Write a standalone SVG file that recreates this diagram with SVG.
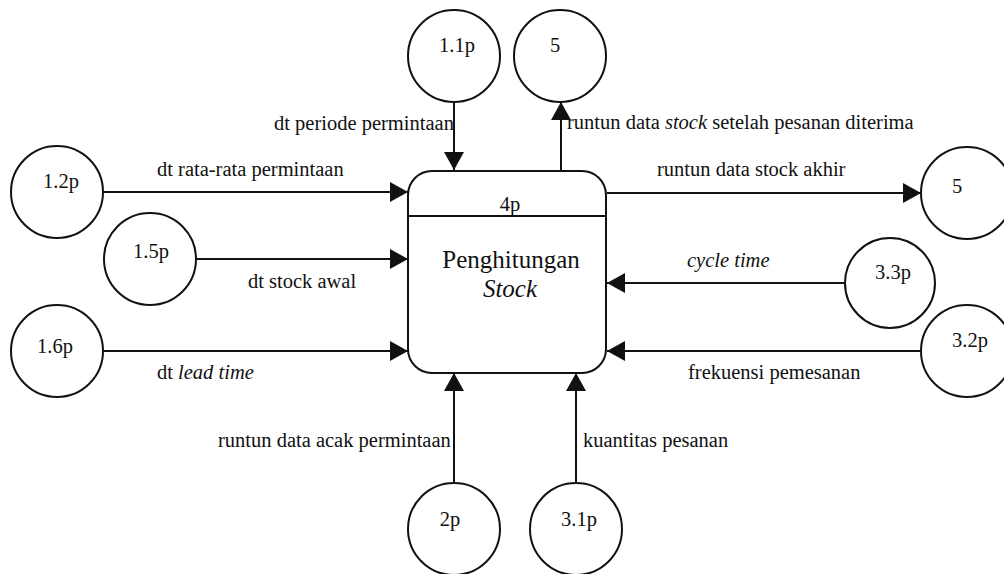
<svg xmlns="http://www.w3.org/2000/svg" width="1004" height="574" viewBox="0 0 1004 574" font-family="'Liberation Serif', Tinos, 'Times New Roman', serif">
  <style>
    .node { fill: #fff; stroke: #111; stroke-width: 2; }
    .flow { stroke: #111; stroke-width: 2; fill: none; marker-end: url(#head); }
    .nlab { font-size: 20.5px; text-anchor: middle; fill: #111; }
    .big { font-size: 25px; }
    .flab { font-size: 20.5px; fill: #111; }
    .it { font-style: italic; }
  </style>
  <defs>
    <marker id="head" markerUnits="userSpaceOnUse" markerWidth="20" markerHeight="20" viewBox="0 0 18 20" refX="18" refY="10" orient="auto">
      <path d="M0,0 L18,10 L0,20 Z" fill="#111"/>
    </marker>
  </defs>
  <rect width="1004" height="574" fill="#fff"/>

  <!-- data flows -->
  <g id="connectors">
    <line class="flow" x1="454" y1="102" x2="454" y2="170"/>
    <line class="flow" x1="561" y1="170" x2="561" y2="102"/>
    <line class="flow" x1="104" y1="192" x2="408" y2="192"/>
    <line class="flow" x1="196" y1="259" x2="408" y2="259"/>
    <line class="flow" x1="104" y1="351" x2="408" y2="351"/>
    <line class="flow" x1="607" y1="193" x2="921" y2="193"/>
    <line class="flow" x1="845" y1="283" x2="607" y2="283"/>
    <line class="flow" x1="921" y1="351" x2="607" y2="351"/>
    <line class="flow" x1="454" y1="483" x2="454" y2="373"/>
    <line class="flow" x1="576" y1="483" x2="576" y2="373"/>

    <text class="flab" x="274" y="130">dt periode permintaan</text>
    <text class="flab" x="567" y="129">runtun data <tspan class="it">stock</tspan> setelah pesanan diterima</text>
    <text class="flab" x="157" y="176">dt rata-rata permintaan</text>
    <text class="flab" x="657" y="176">runtun data stock akhir</text>
    <text class="flab" x="248" y="288">dt stock awal</text>
    <text class="flab it" x="687" y="267">cycle time</text>
    <text class="flab" x="157" y="379">dt <tspan class="it">lead time</tspan></text>
    <text class="flab" x="688" y="379">frekuensi pemesanan</text>
    <text class="flab" x="218" y="447">runtun data acak permintaan</text>
    <text class="flab" x="583" y="447">kuantitas pesanan</text>
  </g>

  <!-- central process -->
  <g id="p4">
    <rect class="node" x="408" y="171" width="198" height="202" rx="24" ry="24"/>
    <line x1="408" y1="216" x2="606" y2="216" stroke="#111" stroke-width="2"/>
    <text class="nlab" x="510" y="211">4p</text>
    <text class="nlab big" x="511" y="268">Penghitungan</text>
    <text class="nlab big it" x="510" y="297">Stock</text>
  </g>

  <!-- surrounding processes / stores -->
  <g id="n11"><circle class="node" cx="454" cy="56" r="46"/><text class="nlab" x="457" y="52">1.1p</text></g>
  <g id="n5top"><circle class="node" cx="560" cy="56" r="46"/><text class="nlab" x="555" y="52">5</text></g>
  <g id="n12"><circle class="node" cx="57" cy="192" r="46"/><text class="nlab" x="61" y="188">1.2p</text></g>
  <g id="n15"><circle class="node" cx="150" cy="259" r="46"/><text class="nlab" x="151" y="258">1.5p</text></g>
  <g id="n16"><circle class="node" cx="57" cy="351" r="46"/><text class="nlab" x="55" y="353">1.6p</text></g>
  <g id="n5right"><circle class="node" cx="967" cy="193" r="46"/><text class="nlab" x="957" y="193">5</text></g>
  <g id="n33"><circle class="node" cx="890" cy="283" r="45"/><text class="nlab" x="893" y="279">3.3p</text></g>
  <g id="n32"><circle class="node" cx="967" cy="351" r="46"/><text class="nlab" x="970" y="347">3.2p</text></g>
  <g id="n2"><circle class="node" cx="454" cy="529" r="46"/><text class="nlab" x="450" y="526">2p</text></g>
  <g id="n31"><circle class="node" cx="576" cy="529" r="46"/><text class="nlab" x="579" y="526">3.1p</text></g>
</svg>
